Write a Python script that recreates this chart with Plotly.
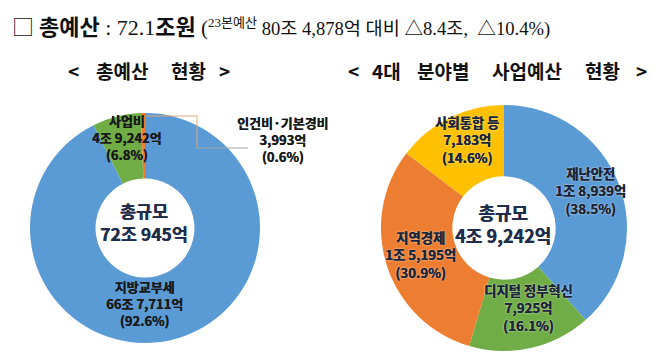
import plotly.graph_objects as go

W, H = 658, 362

# ---------------- data ----------------
left_names = ["지방교부세", "사업비", "인건비·기본경비"]
left_values = [667711, 49242, 3993]          # 억원
left_value_labels = ["66조 7,711억", "4조 9,242억", "3,993억"]
left_pcts = ["92.6%", "6.8%", "0.6%"]
left_colors = ["#5B9BD5", "#70AD47", "#ED7D31"]
left_total_label = ["총규모", "72조 945억"]

right_names = ["재난안전", "디지털 정부혁신", "지역경제", "사회통합 등"]
right_values = [18939, 7925, 15195, 7183]    # 억원
right_value_labels = ["1조 8,939억", "7,925억", "1조 5,195억", "7,183억"]
right_pcts = ["38.5%", "16.1%", "30.9%", "14.6%"]
right_colors = ["#5B9BD5", "#70AD47", "#ED7D31", "#FFC000"]
right_total_label = ["총규모", "4조 9,242억"]

left_title_words = ["<", "총예산", "현황", ">"]
right_title_words = ["<", "4대", "분야별", "사업예산", "현황", ">"]

# ---------------- helpers ----------------
def px(x):
    return x / W

def py(y):
    return 1 - y / H

SANS = "Noto Sans CJK KR"
SERIF = "Liberation Serif, Noto Sans CJK KR"

fig = go.Figure()

# left donut: centre (137,220), r=115
fig.add_trace(go.Pie(
    labels=left_names, values=left_values, sort=False, direction="clockwise",
    rotation=0, hole=0.43, textinfo="none", hoverinfo="label+value+percent",
    marker=dict(colors=left_colors, line=dict(width=0)),
    domain=dict(x=[px(22), px(252)], y=[py(335), py(105)]),
    showlegend=False,
))
# right donut: centre (496,220), r=123
fig.add_trace(go.Pie(
    labels=right_names, values=right_values, sort=False, direction="clockwise",
    rotation=0, hole=0.42, textinfo="none", hoverinfo="label+value+percent",
    marker=dict(colors=right_colors, line=dict(width=0)),
    domain=dict(x=[px(373), px(619)], y=[py(343), py(97)]),
    showlegend=False,
))

annotations = []

def add_text(x, y, text, size, color="#1E1E1E", family=SANS, shadow=None,
             xanchor="center", weight="normal", dy=None):
    font = dict(size=size, color=color, family=family, weight=weight)
    if shadow:
        font["shadow"] = shadow
    # compensate for the vertical offset of CJK line boxes
    yy = y - (0.4 * size if dy is None else dy)
    annotations.append(dict(
        x=px(x), y=py(yy), xref="paper", yref="paper", text=text, showarrow=False,
        xanchor=xanchor, yanchor="middle", font=font, align="center",
    ))

# title
title_html = (
    "<span style='font-size:22px'>□ </span><span style='font-size:22px'><b>총예산</b></span>"
    f"<span style='font-family:{SERIF};font-size:22px'> : 72.1</span>"
    "<span style='font-size:22px'><b>조원</b></span>"
    f"<span style='font-family:{SERIF};font-size:21px'> (</span>"
    f"<span style='font-family:{SERIF}'><sup>23본예산</sup> 80조 4,878억 대비 △8.4조,  △10.4%)</span>"
)
add_text(2, 24, title_html, 18.6, color="#111111", xanchor="left")

# subtitles, one word at a time (word centres in px)
left_word_x = [65, 114, 180, 216]
right_word_x = [345, 378, 435, 519, 594, 633]
for x, w in zip(left_word_x, left_title_words):
    add_text(x, 70, w, 19, color="#111111", weight="bold")
for x, w in zip(right_word_x, right_title_words):
    add_text(x, 70, w, 19, color="#111111", weight="bold")

# slice labels: (x centre, y of middle line) in px
left_pos = [(136, 304), (118, 138), (274, 140)]
for (x, y), n, v, p in zip(left_pos, left_names, left_value_labels, left_pcts):
    add_text(x, y, f"{n}<br>{v}<br>({p})", 13, color="#1A1A1A", weight="bold",
             shadow="0.4px 0 0 #1A1A1A", dy=8.5)

right_pos = [(582, 192), (520, 308), (412, 255), (459, 140)]
for (x, y), n, v, p in zip(right_pos, right_names, right_value_labels, right_pcts):
    add_text(x, y, f"{n}<br>{v}<br>({p})", 13.3, color="#1C2538", weight="bold",
             shadow="0.4px 0 0 #1C2538, 0px 0px 2px rgba(255,255,255,0.9)", dy=8.5)

# centre totals (y of the midpoint between the two lines)
add_text(136, 221, "<br>".join(left_total_label), 17.5, color="#1F2D4A", weight="bold",
         shadow="0.4px 0 0 #1F2D4A", dy=7.5)
add_text(495, 223, "<br>".join(right_total_label), 18, color="#1F2D4A", weight="bold",
         shadow="0.4px 0 0 #1F2D4A", dy=7.5)

# leader line for the small slice
shapes = [
    dict(type="line", xref="paper", yref="paper", x0=px(138), y0=py(108), x1=px(189), y1=py(108),
         line=dict(color="#E0A878", width=1)),
    dict(type="line", xref="paper", yref="paper", x0=px(189), y0=py(108), x1=px(189), y1=py(140),
         line=dict(color="#E0A878", width=1)),
    dict(type="line", xref="paper", yref="paper", x0=px(189), y0=py(140), x1=px(240), y1=py(140),
         line=dict(color="#A6A6A6", width=1)),
]

fig.update_layout(
    width=W, height=H, margin=dict(l=0, r=0, t=0, b=0),
    paper_bgcolor="white", plot_bgcolor="white",
    annotations=annotations, shapes=shapes,
)

fig.write_html("out.html")
